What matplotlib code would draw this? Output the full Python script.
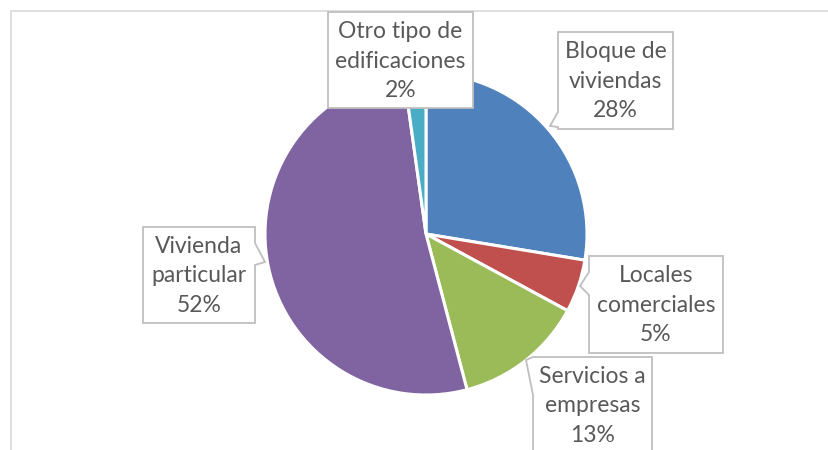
import numpy as np
import matplotlib.pyplot as plt
from matplotlib.patches import Polygon

W, H = 829, 450

# data
labels = ['Bloque de\nviviendas', 'Locales\ncomerciales', 'Servicios a\nempresas',
          'Vivienda\nparticular', 'Otro tipo de\nedificaciones']
values = [27.6, 5.3, 13.0, 51.9, 2.2]
pct_text = ['28%', '5%', '13%', '52%', '2%']
colors = ['#4F81BD', '#C0504D', '#9BBB59', '#8064A2', '#4BACC6']

plt.rcParams['font.family'] = ['Lato', 'DejaVu Sans']

fig = plt.figure(figsize=(W / 100, H / 100), dpi=100)
ax = fig.add_axes([0, 0, 1, 1])

def py(y):
    # image pixel row -> data y
    return H - y

# chart frame (left and top edges visible)
ax.plot([11, 11, W], [py(H), py(11), py(11)], color='#D9D9D9', lw=1.2, zorder=1)

ax.pie(values, colors=colors, startangle=90, counterclock=False,
       center=(426, py(234)), radius=161, frame=True,
       wedgeprops=dict(edgecolor='white', linewidth=2.2))
ax.set_xlim(0, W)
ax.set_ylim(0, H)
ax.set_aspect('equal')
ax.axis('off')

# callout boxes: (x0, y0, x1, y1), tail=(side, a, b, tip)
boxes = [
    ((558, 32, 673, 129), ('left', 112, 127, (550, 126))),
    ((589, 256, 723, 353), ('left', 272, 295, (580, 286))),
    ((533, 357, 652, 470), ('left', 357, 395, (526, 360))),
    ((143, 227, 255, 323), ('right', 243, 265, (265, 262))),
    ((328, 12, 473, 108), None),
]

def callout(rect, tail):
    x0, y0, x1, y1 = rect
    pts = [(x0, y0), (x1, y0)]
    if tail and tail[0] == 'right':
        _, a, b, tip = tail
        pts += [(x1, a), tip, (x1, b)]
    pts += [(x1, y1), (x0, y1)]
    if tail and tail[0] == 'left':
        _, a, b, tip = tail
        pts += [(x0, b), tip, (x0, a)]
    pts = [(x, py(y)) for x, y in pts]
    ax.add_patch(Polygon(pts, closed=True, facecolor='white',
                         edgecolor='#BFBFBF', lw=1.3, zorder=5))
    return x0, y0, x1, y1

for (rect, tail), lab, pct in zip(boxes, labels, pct_text):
    x0, y0, x1, y1 = callout(rect, tail)
    ax.text((x0 + x1) / 2, py(y0 + 49), lab + '\n' + pct,
            ha='center', va='center', fontsize=16.5,
            color='#595959', linespacing=1.5, zorder=6)

fig.savefig('out.png', dpi=100)
